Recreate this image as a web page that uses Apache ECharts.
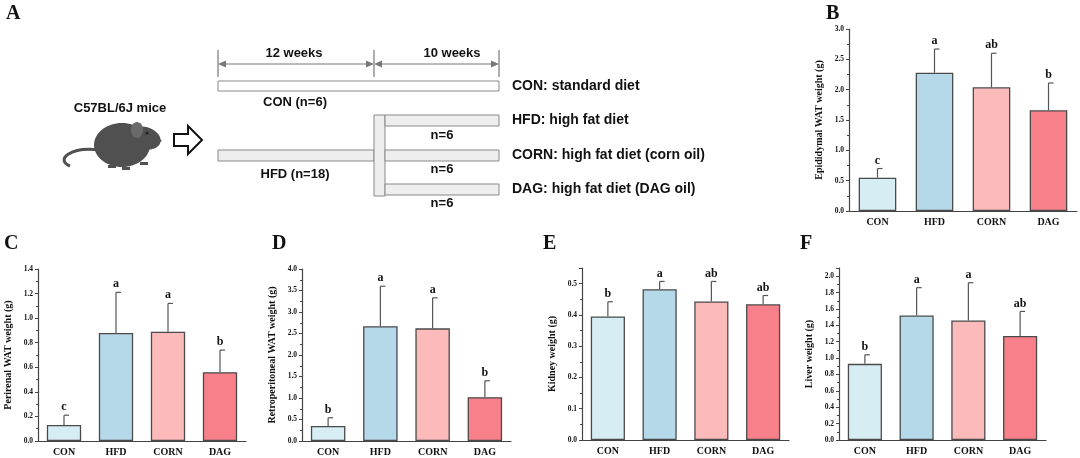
<!DOCTYPE html>
<html><head><meta charset="utf-8">
<script src="https://cdn.jsdelivr.net/npm/echarts@6/dist/echarts.min.js"></script>
<style>html,body{margin:0;background:#fff}#main{width:1080px;height:458px}</style>
</head><body><div id="main"></div>
<script>
var groups = ['CON', 'HFD', 'CORN', 'DAG'];
var barColors = ['#d7edf4', '#b6d9ea', '#fdbaba', '#f7808b'];

// panel B..F : means, mean + SD, letters
var epiMean = [0.55, 2.28, 2.04, 1.66];
var epiTop = [0.70, 2.67, 2.60, 2.11];
var epiLetters = ['c', 'a', 'ab', 'b'];
var periMean = [0.13, 0.88, 0.89, 0.56];
var periTop = [0.21, 1.21, 1.12, 0.74];
var periLetters = ['c', 'a', 'a', 'b'];
var retroMean = [0.35, 2.67, 2.62, 1.02];
var retroTop = [0.54, 3.60, 3.33, 1.40];
var retroLetters = ['b', 'a', 'a', 'b'];
var kidMean = [0.395, 0.482, 0.443, 0.434];
var kidTop = [0.442, 0.507, 0.507, 0.462];
var kidLetters = ['b', 'a', 'ab', 'ab'];
var livMean = [0.93, 1.52, 1.46, 1.27];
var livTop = [1.04, 1.86, 1.92, 1.57];
var livLetters = ['b', 'a', 'a', 'ab'];

var panels = [
  {name: 'Epididymal WAT weight (g)', mean: epiMean, top: epiTop, letters: epiLetters, max: 3.0, interval: 0.5, dec: 1,
   grid: {left: 849, top: 29, width: 228, height: 182}, lab: ['B', 826, 4]},
  {name: 'Perirenal WAT weight (g)', mean: periMean, top: periTop, letters: periLetters, max: 1.4, interval: 0.2, dec: 1,
   grid: {left: 38, top: 269, width: 208, height: 172}, lab: ['C', 4, 234]},
  {name: 'Retroperitoneal WAT weight (g)', mean: retroMean, top: retroTop, letters: retroLetters, max: 4.0, interval: 0.5, dec: 1,
   grid: {left: 302, top: 269, width: 209, height: 172}, lab: ['D', 272, 234]},
  {name: 'Kidney weight (g)', mean: kidMean, top: kidTop, letters: kidLetters, max: 0.55, interval: 0.1, dec: 1, hideMax: true,
   grid: {left: 582, top: 268, width: 207, height: 172}, lab: ['E', 543, 234]},
  {name: 'Liver weight (g)', mean: livMean, top: livTop, letters: livLetters, max: 2.1, interval: 0.2, dec: 1, hideMax: true,
   grid: {left: 839, top: 268, width: 207, height: 172}, lab: ['F', 800, 234]}
];

var serif = 'Liberation Serif';
var sans = 'Liberation Sans';
var axisCol = '#444';
var option = {grid: [], xAxis: [], yAxis: [], series: [], graphic: [], animation: false};

panels.forEach(function (p, i) {
  option.grid.push(p.grid);
  option.xAxis.push({type: 'category', gridIndex: i, data: groups,
    axisLine: {lineStyle: {color: axisCol, width: 1.2}}, axisTick: {show: false},
    axisLabel: {color: '#111', fontFamily: serif, fontWeight: 'bold', fontSize: 10, margin: 6}});
  option.yAxis.push({type: 'value', gridIndex: i, min: 0, max: p.max, interval: p.interval,
    name: p.name, nameLocation: 'middle', nameGap: 25,
    nameTextStyle: {color: '#111', fontFamily: serif, fontWeight: 'bold', fontSize: 10},
    splitLine: {show: false},
    axisLine: {show: true, lineStyle: {color: axisCol, width: 1.2}},
    axisTick: {show: true, length: 3, lineStyle: {color: axisCol}},
    minorTick: {show: true, splitNumber: 2, length: 2, lineStyle: {color: axisCol}},
    axisLabel: {color: '#111', fontFamily: serif, fontWeight: 'bold', fontSize: 7.5, margin: 5,
      showMaxLabel: !p.hideMax, formatter: function (v) { return v.toFixed(p.dec); }}});
  option.series.push({type: 'bar', xAxisIndex: i, yAxisIndex: i, barWidth: '66%',
    data: p.mean.map(function (v, k) {
      return {value: v, itemStyle: {color: barColors[k], borderColor: '#4a4a4a', borderWidth: 1.3}};
    })});
  option.series.push({type: 'custom', xAxisIndex: i, yAxisIndex: i, z: 5,
    data: p.mean.map(function (v, k) { return [k, v, p.top[k], p.letters[k]]; }),
    renderItem: function (params, api) {
      var a = api.coord([api.value(0), api.value(1)]);
      var b = api.coord([api.value(0), api.value(2)]);
      var st = {stroke: '#555', lineWidth: 1.2};
      return {type: 'group', children: [
        {type: 'line', shape: {x1: a[0], y1: a[1], x2: b[0], y2: b[1]}, style: st},
        {type: 'line', shape: {x1: a[0], y1: b[1], x2: a[0] + 5, y2: b[1]}, style: st},
        {type: 'text', style: {text: p.letters[params.dataIndex], x: a[0], y: b[1] - 2,
          align: 'center', verticalAlign: 'bottom', fill: '#111',
          font: 'bold 12px "Liberation Serif"'}}
      ]};
    }});
  option.graphic.push({type: 'text', left: p.lab[1], top: p.lab[2],
    style: {text: p.lab[0], font: 'bold 20px "Liberation Serif"', fill: '#111'}});
});

// panel A diagram
var g = option.graphic;
var grey = '#777';
function txt(t, x, y, size, align) {
  g.push({type: 'text', x: x, y: y, style: {text: t, font: 'bold ' + size + 'px "Liberation Sans"',
    fill: '#111', align: align || 'center', verticalAlign: 'middle'}});
}
function box(x, y, w, h, fill) {
  g.push({type: 'rect', shape: {x: x, y: y, width: w, height: h},
    style: {fill: fill, stroke: '#888', lineWidth: 1}});
}
function arrowLine(x1, x2, y) {
  g.push({type: 'line', shape: {x1: x1 + 3, y1: y, x2: x2 - 3, y2: y}, style: {stroke: grey, lineWidth: 1}});
  g.push({type: 'polygon', shape: {points: [[x1, y], [x1 + 8, y - 3.5], [x1 + 8, y + 3.5]]}, style: {fill: grey}});
  g.push({type: 'polygon', shape: {points: [[x2, y], [x2 - 8, y - 3.5], [x2 - 8, y + 3.5]]}, style: {fill: grey}});
}
g.push({type: 'text', left: 6, top: 4, style: {text: 'A', font: 'bold 20px "Liberation Serif"', fill: '#111'}});
[218, 374, 499].forEach(function (x) {
  g.push({type: 'line', shape: {x1: x, y1: 50, x2: x, y2: 77}, style: {stroke: grey, lineWidth: 1.2}});
});
arrowLine(218, 374, 64);
arrowLine(374, 499, 64);
txt('12 weeks', 294, 53, 13);
txt('10 weeks', 452, 53, 13);
box(218, 81, 281, 10, '#fff');
txt('CON (n=6)', 295, 102, 13);
txt('CON: standard diet', 512, 86, 14, 'left');
box(218, 150, 156, 11, '#eeeeee');
txt('HFD (n=18)', 295, 174, 13);
box(374, 115, 11, 81, '#eeeeee');
[115, 150, 184].forEach(function (y) { box(385, y, 114, 11, '#eeeeee'); });
[135, 169, 203].forEach(function (y) { txt('n=6', 442, y, 13); });
txt('HFD: high fat diet', 512, 120, 14, 'left');
txt('CORN: high fat diet (corn oil)', 512, 155, 14, 'left');
txt('DAG: high fat diet (DAG oil)', 512, 189, 14, 'left');
txt('C57BL/6J mice', 120, 108, 13);
// hollow arrow
g.push({type: 'polygon', shape: {points: [[174, 134], [188, 134], [188, 126], [202, 140], [188, 154], [188, 146], [174, 146]]},
  style: {fill: '#fff', stroke: '#111', lineWidth: 2}});
// mouse
var mouse = '#505050';
g.push({type: 'bezierCurve', shape: {x1: 100, y1: 150, cpx1: 70, cpy1: 146, cpx2: 55, cpy2: 160, x2: 70, y2: 166},
  style: {stroke: mouse, lineWidth: 3, fill: null}});
g.push({type: 'ellipse', shape: {cx: 122, cy: 145, rx: 28, ry: 22}, style: {fill: mouse}});
g.push({type: 'ellipse', shape: {cx: 145, cy: 138, rx: 16, ry: 11}, style: {fill: mouse}, rotation: -0.3, originX: 145, originY: 138});
g.push({type: 'polygon', shape: {points: [[150, 131], [162, 141], [152, 146]]}, style: {fill: mouse}});
g.push({type: 'ellipse', shape: {cx: 137, cy: 130, rx: 6, ry: 8}, style: {fill: '#6a6a6a'}});
g.push({type: 'circle', shape: {cx: 147, cy: 133, r: 1.5}, style: {fill: '#222'}});
[[108, 165], [122, 167], [140, 162]].forEach(function (f) {
  g.push({type: 'rect', shape: {x: f[0], y: f[1], width: 8, height: 3}, style: {fill: mouse}});
});

echarts.init(document.getElementById('main')).setOption(option);
</script></body></html>
